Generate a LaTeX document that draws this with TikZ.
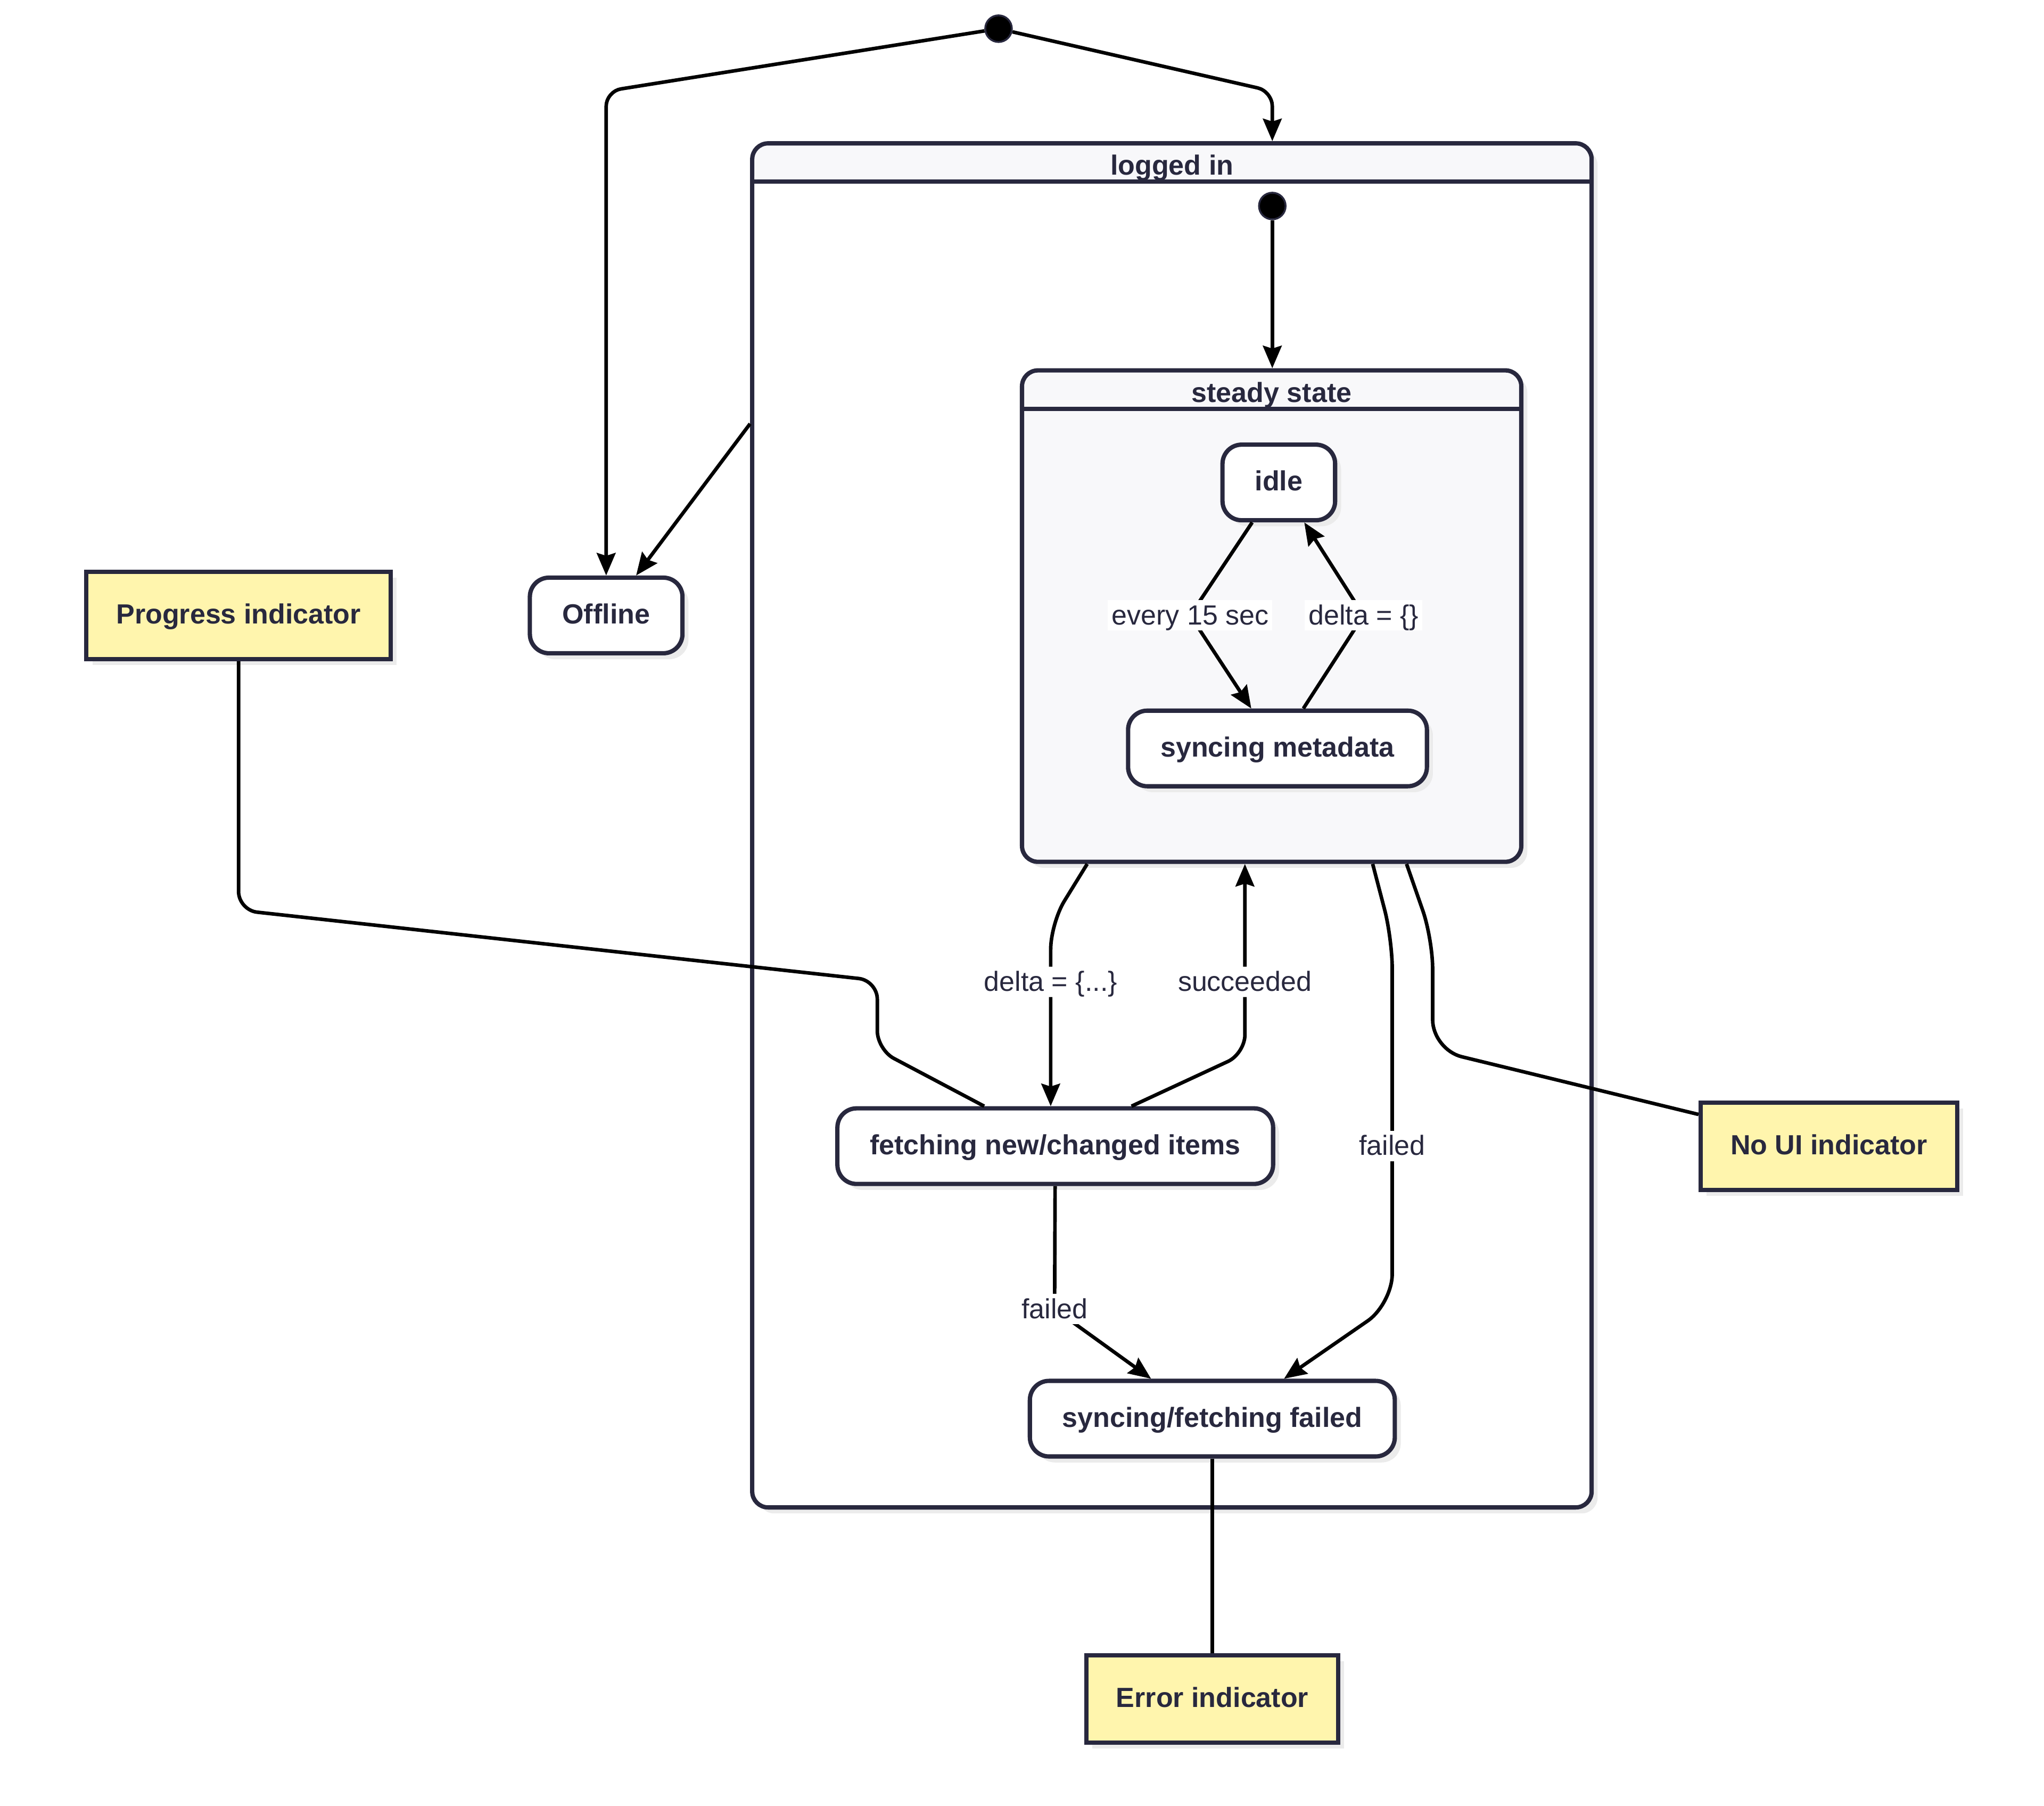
\documentclass[tikz,border=0pt]{standalone}
\usepackage{fontspec}
\setmainfont{Liberation Sans}
\usetikzlibrary{arrows.meta,shadows}
\definecolor{ink}{HTML}{28283E}
\definecolor{notefill}{HTML}{FFF5AD}
\definecolor{compfill}{HTML}{F8F8FA}
\definecolor{shadowgray}{HTML}{EBEBEB}
\tikzset{
  boxshadow/.style={drop shadow={shadow xshift=3.2pt,shadow yshift=-3.2pt,fill=shadowgray,opacity=1}},
  statebox/.style={draw=ink,line width=2.3pt,fill=white,rounded corners=0.36cm,minimum height=1.42cm,
    inner xsep=0.61cm,text height=1em,text depth=0.1em,text=ink,font=\fontsize{14.8}{17}\selectfont\bfseries,boxshadow},
  notebox/.style={draw=ink,line width=2.3pt,fill=notefill,minimum height=1.64cm,inner xsep=0.56cm,
    text height=1em,text depth=0.1em,text=ink,font=\fontsize{14.8}{17}\selectfont\bfseries,boxshadow},
  compbox/.style={draw=ink,line width=2.3pt,fill=compfill,rounded corners=0.3cm,boxshadow},
  comptitle/.style={text=ink,text height=1em,text depth=0.1em,font=\fontsize{14.8}{17}\selectfont\bfseries},
  startdot/.style={circle,draw=ink,line width=1pt,fill=black,minimum size=0.5cm,inner sep=0pt},
  edgelabel/.style={fill=white,text=ink,inner sep=2pt,text height=1.1em,text depth=0.12em,font=\fontsize{14.8}{17}\selectfont},
  trans/.style={draw=black,line width=1.9pt,-{Stealth[length=12pt,width=10pt,inset=1.5pt]}},
  notelink/.style={draw=black,line width=1.9pt}
}
\begin{document}
\begin{tikzpicture}[x=0.02449cm,y=-0.02449cm]
    \useasboundingbox (0,0) rectangle (1568,1385);
    % composite states
    \node[compbox,fill=white,minimum width=15.77cm,minimum height=25.62cm,
      path picture={\fill[compfill] (path picture bounding box.north west) rectangle ([yshift=-0.76cm]path picture bounding box.north east);}]
      (loggedin) at (899,633) {};
    \draw[ink,line width=2.3pt] ([yshift=-0.76cm]loggedin.north west) -- ([yshift=-0.76cm]loggedin.north east);
    \node[comptitle] (loggedintitle) at ([yshift=-0.48cm]loggedin.north) {logged in};
    \node[compbox,minimum width=9.38cm,minimum height=9.23cm] (steady) at (975.5,472.5) {};
    \draw[ink,line width=2.3pt] ([yshift=-0.76cm]steady.north west) -- ([yshift=-0.76cm]steady.north east);
    \node[comptitle] (steadytitle) at ([yshift=-0.48cm]steady.north) {steady state};
    % states
    \node[startdot] (start) at (766,22) {};
    \node[startdot] (innerstart) at (976,158) {};
    \node[statebox] (offline) at (465,472) {Offline};
    \node[statebox] (idle) at (981,370) {idle};
    \node[statebox] (syncmeta) at (980,574) {syncing metadata};
    \node[statebox] (fetching) at (809.5,879) {fetching new/changed items};
    \node[statebox] (fetchfailed) at (930,1088) {syncing/fetching failed};
    % notes
    \node[notebox] (progress) at (183,472) {Progress indicator};
    \node[notebox] (noui) at (1403,879) {No UI indicator};
    \node[notebox] (error) at (930,1303) {Error indicator};
    % transitions
    \draw[trans,rounded corners=8pt] (start) -- (465,70) -- (offline);
    \draw[trans,rounded corners=8pt] (start) -- (976,70) -- (loggedin.north -| innerstart);
    \draw[trans] (innerstart) -- (steady.north -| innerstart);
    \draw[trans] (loggedin.west |- 0,325) -- (offline);
    \draw[trans] (idle) -- (913,472) node[edgelabel] {every 15 sec} -- (syncmeta);
    \draw[trans] (syncmeta) -- (1046,472) node[edgelabel] {delta = \{\}} -- (idle);
    \draw[trans,rounded corners=14pt] (steady.south -| 834,0) -- (806,708) -- (806,753) node[edgelabel] {delta = \{...\}} -- (fetching.north -| 806,0);
    \draw[trans,rounded corners=10pt] (fetching.north -| 868,0) -- (955,808) -- (955,753) node[edgelabel] {succeeded} -- (steady.south -| 955,0);
    \draw[trans] (fetching) -- (809,1004) node[edgelabel] {failed} -- (fetchfailed.north -| 883,0);
    \draw[trans,rounded corners=16pt] (steady.south -| 1053,0) -- (1068,720) -- (1068,879) node[edgelabel] {failed} -- (1068,1000) -- (fetchfailed.north -| 985,0);
    % note links
    \draw[notelink,rounded corners=10pt] (progress) -- (183,698) -- (673,752) -- (673,805) -- (fetching.north -| 755,0);
    \draw[notelink,rounded corners=16pt] (steady.south -| 1079,0) -- (1099,720) -- (1099,805) -- (noui);
    \draw[notelink] (fetchfailed) -- (error);
\end{tikzpicture}
\end{document}
